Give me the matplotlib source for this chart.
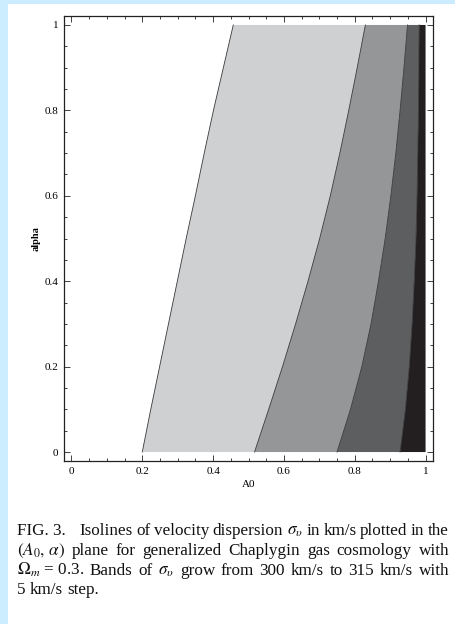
import matplotlib
matplotlib.use("Agg")
import matplotlib.pyplot as plt
from matplotlib.patches import Rectangle
import numpy as np

plt.rcParams["font.family"] = ["Liberation Serif", "DejaVu Serif"]
plt.rcParams["mathtext.fontset"] = "stix"

# isoline positions A0(alpha) for sigma_v = 300, 305, 310, 315 km/s
alpha = [0.0, 0.1, 0.2, 0.3, 0.4, 0.5, 0.6, 0.7, 0.8, 0.9, 1.0]
iso_300 = [0.200, 0.224, 0.249, 0.274, 0.299, 0.324, 0.350, 0.375, 0.401, 0.429, 0.457]
iso_305 = [0.517, 0.557, 0.596, 0.633, 0.668, 0.701, 0.731, 0.758, 0.783, 0.807, 0.830]
iso_310 = [0.750, 0.788, 0.820, 0.846, 0.867, 0.886, 0.902, 0.916, 0.928, 0.939, 0.949]
iso_315 = [0.928, 0.943, 0.954, 0.962, 0.968, 0.973, 0.976, 0.978, 0.980, 0.981, 0.982]
a0_max = 1.0
band_colors = ["#cfd0d2", "#959697", "#5d5e60", "#231f20"]

xticks = [0, 0.2, 0.4, 0.6, 0.8, 1]
xticklabels = ["0", "0.2", "0.4", "0.6", "0.8", "1"]

caption = [
    ["FIG. 3.", "Isolines", "of", "velocity", "dispersion", r"$\sigma_\upsilon$", "in", "km/s",
     "plotted", "in", "the"],
    [r"$(A_0,\,\alpha)$", "plane", "for", "generalized", "Chaplygin", "gas", "cosmology", "with"],
    [r"$\Omega_m$ = 0.3.", "Bands", "of", r"$\sigma_\upsilon$", "grow", "from", "300", "km/s", "to",
     "315", "km/s", "with"],
    ["5", "km/s", "step."],
]

W, H = 456, 624
fig = plt.figure(figsize=(W / 100, H / 100), dpi=100, facecolor="#ccecff")
fig.patches.append(Rectangle((8 / W, 0), 1, 1 - 4 / H, transform=fig.transFigure,
                             facecolor="white", edgecolor="none", zorder=-1))

ax = fig.add_axes([64 / W, 1 - 461 / H, (433 - 64) / W, (461 - 16) / H], zorder=2)
ax.set_facecolor("white")

edges = [iso_300, iso_305, iso_310, iso_315, [a0_max] * len(alpha)]
for i, c in enumerate(band_colors):
    ax.fill_betweenx(alpha, edges[i], edges[i + 1], facecolor=c, edgecolor="none")
for iso in edges[:4]:
    ax.plot(iso, alpha, color="#3a3a3a", lw=0.6)

ax.set_xlim(-0.021, 1.021)
ax.set_ylim(-0.021, 1.021)
ax.set_xticks(xticks)
ax.set_xticklabels(xticklabels)
ax.set_yticks(xticks)
ax.set_yticklabels(xticklabels)
ax.set_xticks(np.arange(0, 1.001, 0.05), minor=True)
ax.set_yticks(np.arange(0, 1.001, 0.05), minor=True)
ax.tick_params(which="both", direction="in", top=True, right=True, width=0.6,
               color="#222222", labelsize=8)
ax.tick_params(which="major", length=4, pad=4)
ax.tick_params(which="minor", length=2)
for s in ax.spines.values():
    s.set_linewidth(0.9)
    s.set_color("#222222")

ax.set_xlabel("A0", fontsize=8, labelpad=3)
ax.set_ylabel("alpha", fontsize=7.5, fontweight="bold", labelpad=3)

# justified caption block
x0, x1 = 17, 449
line_y = [535, 555, 575, 594]
fig.canvas.draw()
renderer = fig.canvas.get_renderer()
for k, words in enumerate(caption):
    texts = [fig.text(0, 1 - line_y[k] / H, w, fontsize=12.3, va="baseline", ha="left",
                      color="#111111")
             for w in words]
    widths = [t.get_window_extent(renderer).width for t in texts]
    extra = 10 if k == 0 else 0
    if k < len(caption) - 1:
        gap = (x1 - x0 - sum(widths) - extra) / (len(words) - 1)
    else:
        gap = 4.5
    x = x0
    for j, (t, w) in enumerate(zip(texts, widths)):
        t.set_x(x / W)
        x += w + gap + (extra if j == 0 else 0)

fig.savefig("out.png", dpi=100, facecolor=fig.get_facecolor())
